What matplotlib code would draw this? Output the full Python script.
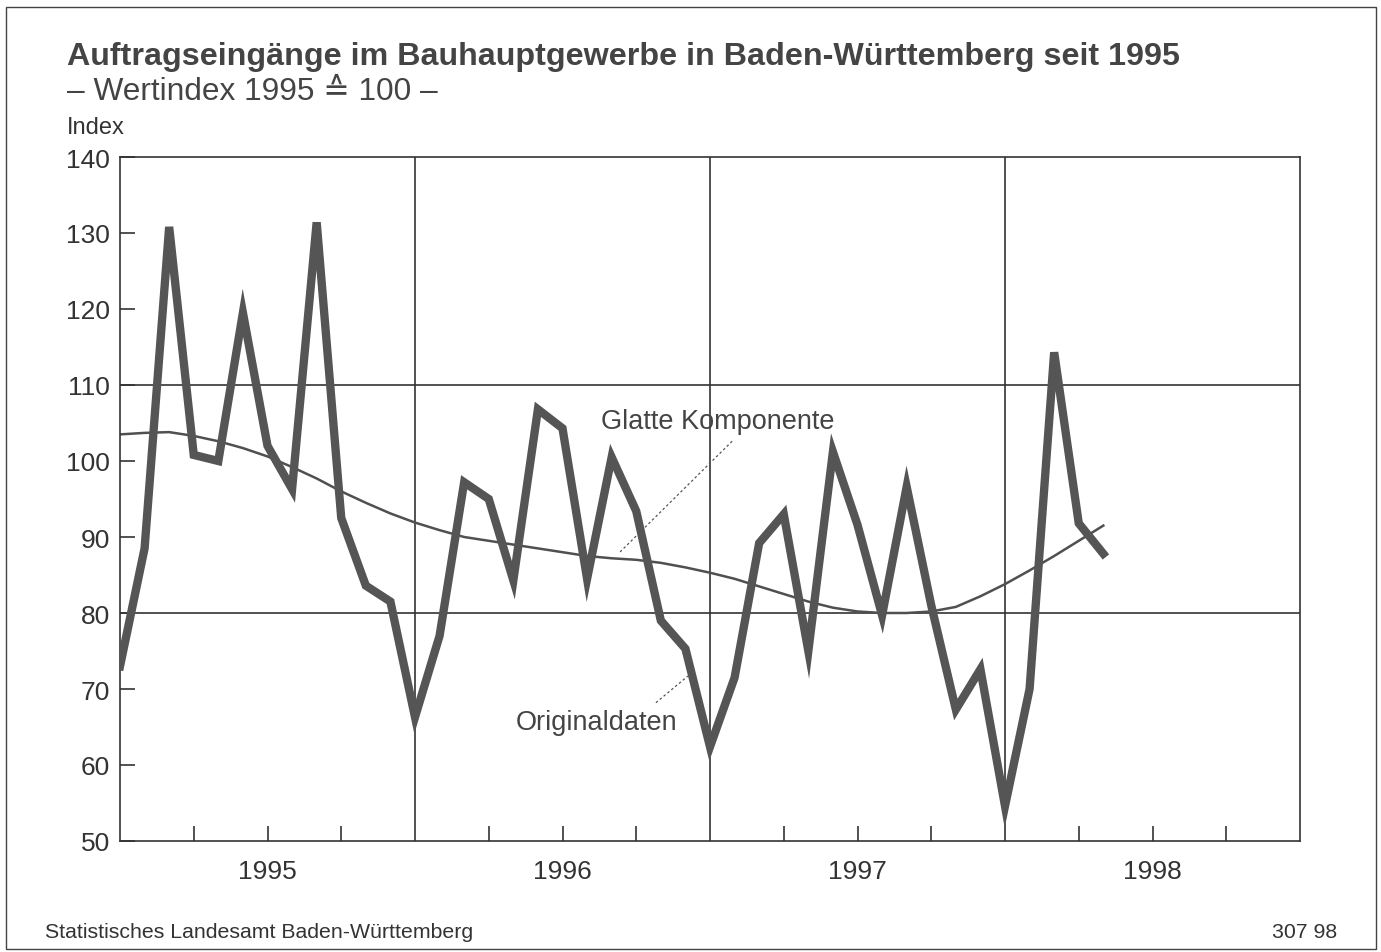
import matplotlib
matplotlib.use("Agg")
import matplotlib.pyplot as plt
from matplotlib.patches import Rectangle

plt.rcParams['font.family'] = ['Liberation Sans', 'DejaVu Sans']

# Monthly index, Jan 1995 .. May 1998
months = list(range(41))
original = [73, 88.5, 130.8, 100.8, 100, 119.5, 102, 96.3, 131.4, 92.5, 83.6, 81.5,
            66.3, 77, 97.2, 95, 84.3, 106.8, 104.3, 84.5, 100.5, 93.4, 79, 75.3,
            62.4, 71.5, 89.2, 93, 75, 101.2, 91.6, 79.7, 96.6, 81, 67.3, 72.6,
            54.6, 70, 114.3, 91.8, 87.8]
smooth = [103.5, 103.7, 103.8, 103.3, 102.6, 101.7, 100.6, 99.2, 97.7, 96.0, 94.5, 93.1,
          91.9, 90.9, 90.0, 89.5, 89.0, 88.5, 88.0, 87.5, 87.2, 87.0, 86.6, 86.0,
          85.3, 84.5, 83.5, 82.5, 81.5, 80.7, 80.2, 80.0, 80.0, 80.2, 80.8, 82.2,
          83.8, 85.6, 87.5, 89.5, 91.5]
year_labels = ['1995', '1996', '1997', '1998']
y_ticks = [50, 60, 70, 80, 90, 100, 110, 120, 130, 140]

W, H = 1381, 953
fig = plt.figure(figsize=(W / 100, H / 100), dpi=100)
ax = fig.add_axes([120 / W, 1 - 842 / H, 1180 / W, 684 / H])

dark = '#333333'
ax.set_xlim(0, 48)
ax.set_ylim(50, 140)

# grid
for yv in [80, 110]:
    ax.axhline(yv, color=dark, lw=1.2, zorder=1)
for xv in [12, 24, 36]:
    ax.axvline(xv, color=dark, lw=1.2, zorder=1)

ax.plot(months, smooth, color='#505050', lw=1.8, zorder=2)
ax.plot(months, original, color='#555555', lw=6, zorder=3, solid_joinstyle='miter')

# ticks
ax.set_yticks(y_ticks)
ax.set_yticklabels([str(v) for v in y_ticks], fontsize=19, color='#333333')
ax.tick_params(axis='y', direction='in', length=11, width=1.2, color=dark, pad=7)
qt = [q for q in range(3, 48, 3) if q % 12 != 0]
ax.set_xticks(qt)
ax.set_xticklabels([])
ax.tick_params(axis='x', direction='in', length=11, width=1.2, color=dark)
for i, lab in enumerate(year_labels):
    ax.text(6 + 12 * i, 50 - 3.9, lab, ha='center', va='center', fontsize=19, color='#333333')

for s in ax.spines.values():
    s.set_color(dark)
    s.set_linewidth(1.2)

# annotations
ax.text(24.3, 105.2, 'Glatte Komponente', ha='center', va='center', fontsize=19.5, color='#444444')
ax.plot([24.9, 20.3], [102.6, 87.9], color='#555555', lw=0.9, ls=(0, (2, 2)))
ax.text(19.4, 65.7, 'Originaldaten', ha='center', va='center', fontsize=19.5, color='#444444')
ax.plot([21.8, 23.1], [68.2, 71.7], color='#555555', lw=0.9, ls=(0, (2, 2)))

# titles
fig.text(67 / W, 1 - 57 / H, 'Auftragseingänge im Bauhauptgewerbe in Baden-Württemberg seit 1995',
         fontsize=23.2, fontweight='bold', color='#444444', va='center', ha='left')
fig.text(67 / W, 1 - 92 / H, '– Wertindex 1995 ≙ 100 –', fontsize=22.8, color='#444444',
         va='center', ha='left')
fig.text(67 / W, 1 - 128 / H, 'Index', fontsize=17, color='#333333', va='center', ha='left')
fig.text(45 / W, 1 - 933 / H, 'Statistisches Landesamt Baden-Württemberg', fontsize=15.3,
         color='#333333', va='center', ha='left')
fig.text(1337 / W, 1 - 933 / H, '307 98', fontsize=15.3, color='#333333', va='center', ha='right')

# outer frame
fig.patches.append(Rectangle((6 / W, 1 - 950 / H), 1370 / W, 942 / H, transform=fig.transFigure,
                             fill=False, edgecolor='#444444', lw=1.0))

fig.savefig('out.png', dpi=100)
